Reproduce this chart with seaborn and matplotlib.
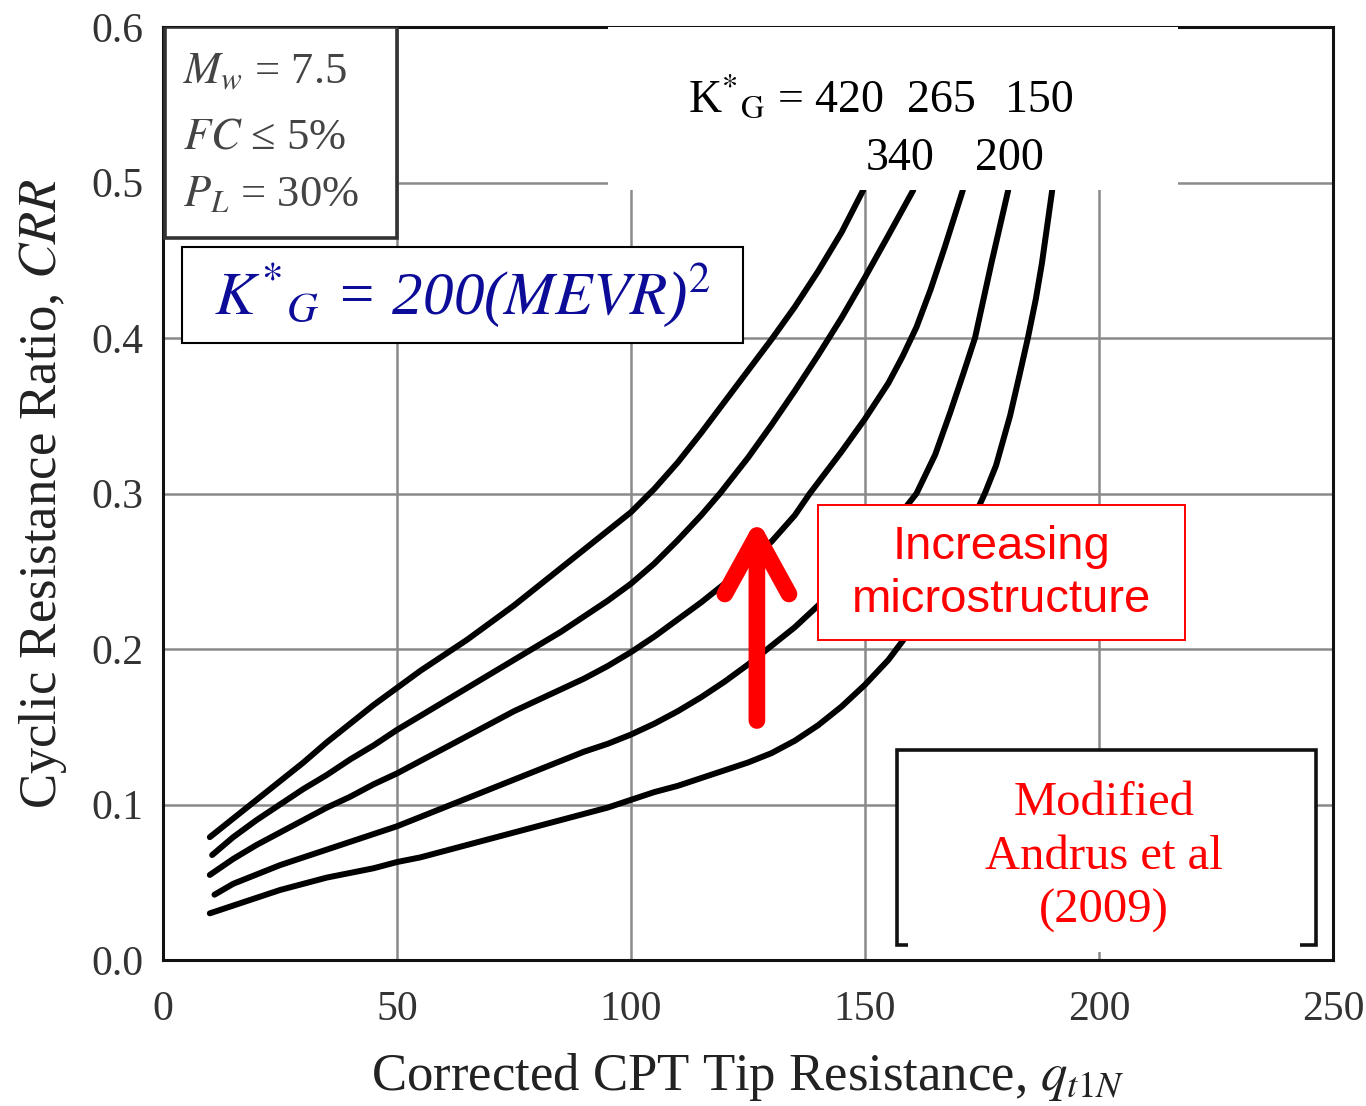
import matplotlib
matplotlib.use("Agg")
import matplotlib.pyplot as plt
import numpy as np
import pandas as pd
import seaborn as sns
from matplotlib.patches import Rectangle

# ---------------- data ----------------
kg_values = ["420", "340", "265", "200", "150"]

c420_x = [10, 15, 20, 25, 30, 35, 40, 45, 50, 55, 60, 65, 70, 75, 80, 85, 90, 95, 100,
          105, 110, 115, 120, 125, 130, 135, 140, 145, 149.6]
c420_y = [0.079, 0.091, 0.103, 0.115, 0.127, 0.140, 0.152, 0.164, 0.175, 0.186, 0.196, 0.206,
          0.217, 0.228, 0.240, 0.252, 0.264, 0.276, 0.288, 0.303, 0.320, 0.339, 0.359, 0.379,
          0.399, 0.420, 0.443, 0.468, 0.495]

c340_x = [10.5, 15, 20, 25, 30, 35, 40, 45, 50, 55, 60, 65, 70, 75, 80, 85, 90, 95, 100,
          105, 110, 115, 119, 125, 130, 135, 140, 145, 150, 155, 160.3]
c340_y = [0.0675, 0.079, 0.090, 0.100, 0.110, 0.119, 0.129, 0.138, 0.148, 0.157, 0.166, 0.175,
          0.184, 0.193, 0.202, 0.211, 0.221, 0.231, 0.242, 0.255, 0.270, 0.286, 0.300, 0.323,
          0.344, 0.366, 0.389, 0.413, 0.439, 0.466, 0.495]

c265_x = [10, 15, 20, 25, 30, 35, 40, 45, 50, 55, 60, 65, 70, 75, 80, 85, 90, 95, 100,
          105, 110, 115, 120, 125, 130, 135, 138.2, 145, 150, 155, 158, 161, 164, 167, 170.9]
c265_y = [0.0547, 0.065, 0.074, 0.082, 0.090, 0.098, 0.105, 0.113, 0.120, 0.128, 0.136, 0.144,
          0.152, 0.160, 0.167, 0.174, 0.181, 0.189, 0.198, 0.208, 0.219, 0.230, 0.242, 0.255,
          0.269, 0.286, 0.300, 0.327, 0.348, 0.371, 0.388, 0.407, 0.431, 0.458, 0.495]

c200_x = [11, 15, 20, 25, 30, 35, 40, 45, 50, 55, 60, 65, 70, 75, 80, 85, 90, 95, 100,
          105, 110, 115, 120, 125, 130, 135, 140, 145, 150, 155, 161, 165, 168.2, 171, 173.5,
          177, 180.6]
c200_y = [0.042, 0.049, 0.055, 0.061, 0.066, 0.071, 0.076, 0.081, 0.086, 0.092, 0.098, 0.104,
          0.110, 0.116, 0.122, 0.128, 0.134, 0.139, 0.145, 0.152, 0.160, 0.169, 0.179, 0.190,
          0.202, 0.214, 0.228, 0.243, 0.258, 0.277, 0.300, 0.325, 0.352, 0.377, 0.400,
          0.448, 0.495]

c150_x = [10, 15, 20, 25, 30, 35, 40, 45, 50, 55, 60, 65, 70, 75, 80, 85, 90, 95, 100,
          105, 110, 115, 120, 125, 130, 135, 140, 145, 150, 155, 158, 162, 166, 170, 173,
          175.6, 178, 181, 183, 184.8, 186.5, 187.8, 190]
c150_y = [0.030, 0.035, 0.040, 0.045, 0.049, 0.053, 0.056, 0.059, 0.063, 0.066, 0.070, 0.074,
          0.078, 0.082, 0.086, 0.090, 0.094, 0.098, 0.103, 0.108, 0.112, 0.117, 0.122, 0.127,
          0.133, 0.141, 0.151, 0.163, 0.177, 0.193, 0.205, 0.222, 0.242, 0.265, 0.283,
          0.300, 0.318, 0.350, 0.376, 0.400, 0.425, 0.448, 0.495]

x_ticks = [0, 50, 100, 150, 200, 250]
y_ticks = [0.0, 0.1, 0.2, 0.3, 0.4, 0.5, 0.6]
y_tick_labels = ["0.0", "0.1", "0.2", "0.3", "0.4", "0.5", "0.6"]

curves_x = [c420_x, c340_x, c265_x, c200_x, c150_x]
curves_y = [c420_y, c340_y, c265_y, c200_y, c150_y]

rows = []
for k, xs, ys in zip(kg_values, curves_x, curves_y):
    for i, (xv, yv) in enumerate(zip(xs, ys)):
        rows.append({"K": k, "order": i, "q": xv, "CRR": yv})
df = pd.DataFrame(rows)

# ---------------- style ----------------
sns.set_style("white")
plt.rcParams["font.family"] = ["Liberation Serif", "DejaVu Serif"]
plt.rcParams["mathtext.fontset"] = "stix"

fig = plt.figure(figsize=(13.66, 11.06), dpi=100)
ax = fig.add_axes([163 / 1366, 1 - 960 / 1106, (1333 - 163) / 1366, (960 - 27) / 1106])

ax.set_xlim(0, 250)
ax.set_ylim(0, 0.6)
ax.set_xticks(x_ticks)
ax.set_yticks(y_ticks)
ax.set_yticklabels(y_tick_labels)
ax.grid(True, color="#8a8a8a", lw=1.8, zorder=0)
ax.set_axisbelow(True)
ax.tick_params(axis="both", length=0, labelsize=30, labelcolor="#333333")
ax.tick_params(axis="x", pad=22)
ax.tick_params(axis="y", pad=14)
for s in ax.spines.values():
    s.set_color("#111111")
    s.set_linewidth(2.2)

sns.lineplot(data=df, x="q", y="CRR", hue="K", units="K", estimator=None, sort=False,
             palette={k: "black" for k in kg_values}, legend=False, lw=4.3, ax=ax, zorder=3)

ax.set_xlabel("Corrected CPT Tip Resistance, $q_{t1N}$", fontsize=38, color="#222222", labelpad=16)
ax.set_ylabel("Cyclic Resistance Ratio, $CRR$", fontsize=38, color="#222222", labelpad=16)

# ---------------- top-left parameter box ----------------
ax.add_patch(Rectangle((0.4, 0.4643), 49.6, 0.1357, facecolor="white", edgecolor="#333333",
                       lw=2.6, zorder=4))
ax.text(4.3, 0.571, "$M_w$ = 7.5", fontsize=32, color="#444444", va="center", ha="left", zorder=5)
ax.text(4.3, 0.529, "$FC$ ≤ 5%", fontsize=32, color="#444444", va="center", ha="left", zorder=5)
ax.text(4.3, 0.492, "$P_L$ = 30%", fontsize=32, color="#444444", va="center", ha="left", zorder=5)

# ---------------- formula box ----------------
ax.add_patch(Rectangle((4.06, 0.397), 119.8, 0.0615, facecolor="white", edgecolor="black",
                       lw=1.5, zorder=4))
ax.text(63.9, 0.4275, "$K^{*}{}_{G}$ = 200($MEVR$)$^{2}$", fontsize=44, color="#0c0c99",
        style="italic", ha="center", va="center", zorder=5)

# ---------------- top white label patch ----------------
ax.add_patch(Rectangle((95.1, 0.4952), 121.8, 0.105, facecolor="white", edgecolor="none", zorder=4))
ax.text(112.2, 0.5453, "K${}^{*}$${}_{\\mathrm{G}}$ = 420", fontsize=33, color="black",
        ha="left", va="baseline", zorder=5)
ax.text(159.0, 0.5453, "265", fontsize=33, color="black", ha="left", va="baseline", zorder=5)
ax.text(179.9, 0.5453, "150", fontsize=33, color="black", ha="left", va="baseline", zorder=5)
ax.text(150.2, 0.5080, "340", fontsize=33, color="black", ha="left", va="baseline", zorder=5)
ax.text(173.5, 0.5080, "200", fontsize=33, color="black", ha="left", va="baseline", zorder=5)

# ---------------- red arrow ----------------
ax.annotate("", xy=(126.9, 0.284), xytext=(126.9, 0.154),
            arrowprops=dict(arrowstyle="->,head_length=1.0,head_width=0.55", mutation_scale=42,
                            lw=12, color="#ff0000", shrinkA=0, shrinkB=0,
                            capstyle="round", joinstyle="round"),
            zorder=6)

# ---------------- red box ----------------
ax.add_patch(Rectangle((139.96, 0.2058), 78.4, 0.0868, facecolor="white", edgecolor="#ff0000",
                       lw=1.4, zorder=4))
ax.text(179.1, 0.2485, "Increasing\nmicrostructure", fontsize=34, color="#ff0000",
        family=["Liberation Sans", "DejaVu Sans"], ha="center", va="center",
        linespacing=1.28, zorder=5)

# ---------------- bottom-right box ----------------
ax.add_patch(Rectangle((156.8, 0.0097), 89.6, 0.1253, facecolor="white", edgecolor="#111111",
                       lw=2.6, zorder=4))
ax.add_patch(Rectangle((159.2, 0.005), 83.8, 0.1245, facecolor="white", edgecolor="none", zorder=4))
ax.text(201.1, 0.0662, "Modified\nAndrus et al\n(2009)", fontsize=35, color="#ff0000",
        ha="center", va="center", linespacing=1.3, zorder=5)

fig.savefig("out.png", dpi=100)
